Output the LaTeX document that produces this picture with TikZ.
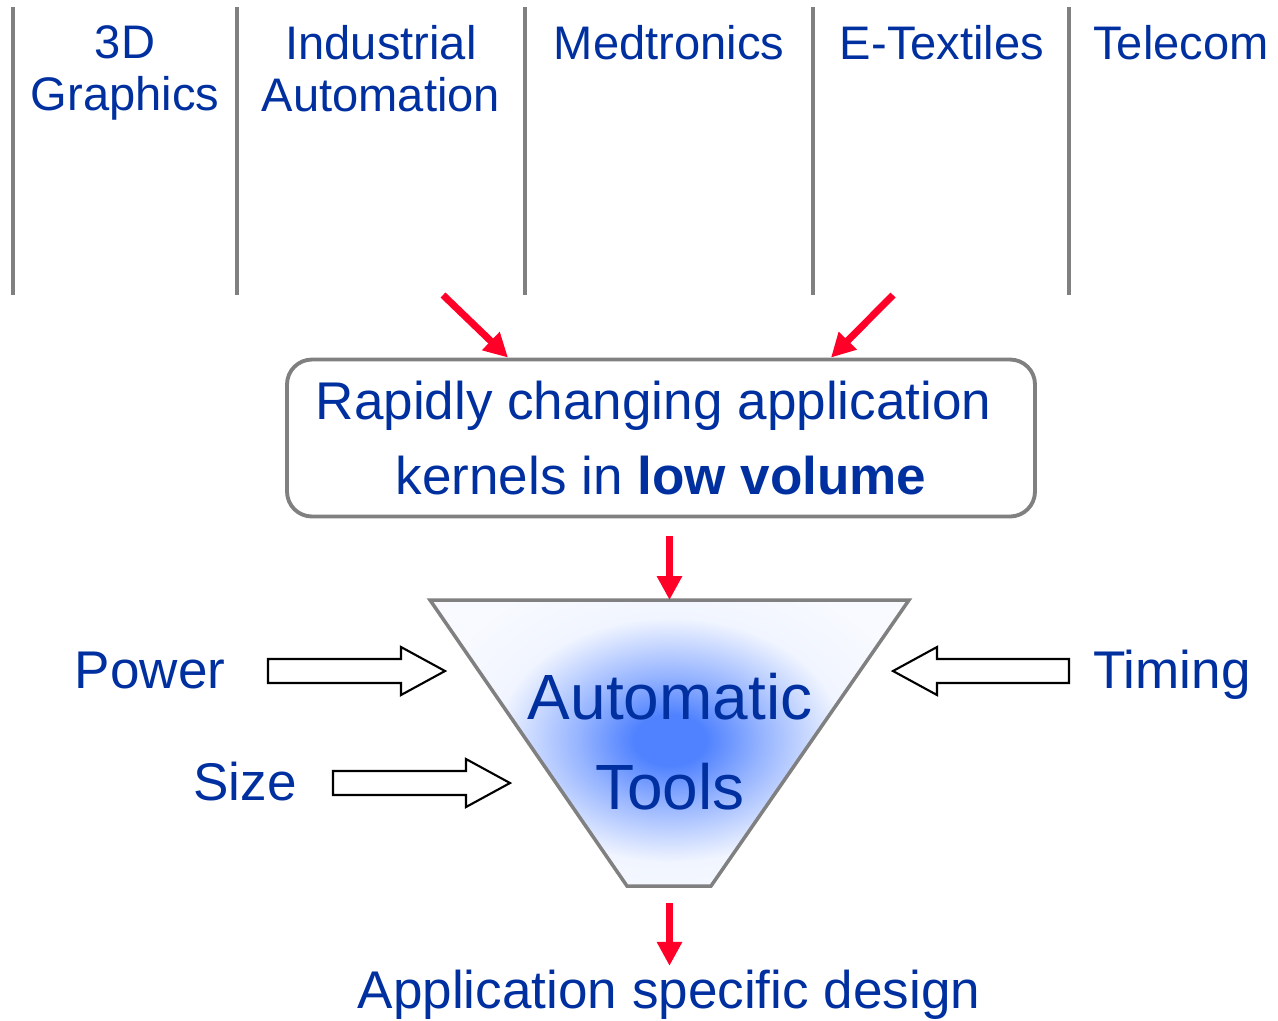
\documentclass[tikz,border=0pt]{standalone}
\usepackage{fontspec}
\setmainfont{Liberation Sans}
\usepackage{xcolor}
\usetikzlibrary{arrows.meta,calc}

\definecolor{txtblue}{RGB}{0,48,160}
\definecolor{arrred}{RGB}{255,0,40}
\definecolor{glowblue}{RGB}{80,130,255}
\definecolor{edgegray}{RGB}{128,128,128}

\pgfdeclareradialshading{funnelglow}{\pgfpoint{0bp}{0bp}}{%
  color(0bp)=(glowblue); color(3.5bp)=(glowblue); color(9bp)=(glowblue!60!white);
  color(17bp)=(glowblue!8!white); color(25bp)=(glowblue!4!white); color(50bp)=(glowblue!4!white)}

% hollow block arrow from #1 to #2
\newcommand{\hollowarrow}[2]{%
  \coordinate (hb) at ($(#2)!4.4mm!(#1)$);
  \draw[hollow] ($(#1)!1.2mm!90:(#2)$) -- ($(hb)!1.2mm!90:(#2)$) -- ($(hb)!2.4mm!90:(#2)$) -- (#2)
    -- ($(hb)!2.4mm!-90:(#2)$) -- ($(hb)!1.2mm!-90:(#2)$) -- ($(#1)!1.2mm!-90:(#2)$) -- cycle;}

\begin{document}
\begin{tikzpicture}[x=0.1mm,y=-0.1mm,>=Latex]
  \tikzstyle{divider}=[draw=edgegray,line width=1pt]
  \tikzstyle{colhead}=[anchor=north,inner sep=0pt,align=center,text=txtblue,font={\fontsize{13.4}{14.8}\selectfont}]
  \tikzstyle{sidetext}=[anchor=base,inner sep=0pt,text=txtblue,font={\fontsize{15.1}{18}\selectfont}]
  \tikzstyle{kbox}=[draw=edgegray,line width=1.1pt,rounded corners=2.5mm,minimum width=74.8mm,minimum height=15.7mm,inner sep=0pt,align=center,text=txtblue,font={\fontsize{15.1}{21.3}\selectfont}]
  \tikzstyle{redarr}=[-{Triangle[length=6.8pt,width=6.8pt]},draw=arrred,line width=2pt]
  \tikzstyle{hollow}=[draw=black,line width=0.6pt,fill=white]
  \useasboundingbox (0,0) rectangle (1278,1020);

  % application areas
  \foreach \x in {13,237,525,813,1069}
    \draw[divider] (\x,7) -- (\x,295);
  \foreach \x/\name/\txt in {125/gfx/3D\\Graphics,381/auto/Industrial\\Automation,669/med/Medtronics,942/etex/E-Textiles,1181/tele/Telecom}
    \node[colhead] (\name) at (\x,25) {\txt};

  \node[kbox] (kernels) at (661,438) {Rapidly changing application\hspace*{.28em}\\kernels in \textbf{low volume}};
  \coordinate (in-l) at (443,295);
  \coordinate (in-r) at (893,295);
  \draw[redarr] (in-l) -- ([xshift=-15.3mm]kernels.north);
  \draw[redarr] (in-r) -- ([xshift=17mm]kernels.north);

  % funnel
  \coordinate (f-tl) at (430,600);
  \coordinate (f-tr) at (909,600);
  \coordinate (f-br) at (711,886);
  \coordinate (f-bl) at (627,886);
  \coordinate (f-top) at (669.5,600);
  \coordinate (f-bot) at (669.5,886);
  \begin{scope}
    \clip (f-tl) -- (f-tr) -- (f-br) -- (f-bl) -- cycle;
    \fill[glowblue!4!white] (f-tl) rectangle (f-tr |- f-br);
    \shade[shading=funnelglow] (670,740) ellipse (255 and 180);
  \end{scope}
  \draw[edgegray,line width=1pt] (f-tl) -- (f-tr) -- (f-br) -- (f-bl) -- cycle;
  \node[anchor=north,inner sep=0pt,align=center,text=txtblue,font={\fontsize{18.2}{25.6}\selectfont}] (tools) at (670,672) {Automatic\\Tools};
  \draw[redarr,shorten <=1.8mm] (kernels.south -| f-top) -- (f-top);

  \node[sidetext] (design) at (669,1008) {Application specific design};
  \draw[redarr,shorten <=1.7mm,shorten >=0.3mm] (f-bot) -- (f-bot |- design.north);

  % constraints
  \node[sidetext] (power) at (150,688) {Power};
  \node[sidetext] (size) at (245,800) {Size};
  \node[sidetext] (timing) at (1172,688) {Timing};
  \coordinate (pw-a) at (268,671);
  \coordinate (pw-b) at (445,671);
  \coordinate (sz-a) at (333,783);
  \coordinate (sz-b) at (510,783);
  \coordinate (tm-a) at (1069,671);
  \coordinate (tm-b) at (893,671);
  \hollowarrow{pw-a}{pw-b}
  \hollowarrow{sz-a}{sz-b}
  \hollowarrow{tm-a}{tm-b}
\end{tikzpicture}
\end{document}
